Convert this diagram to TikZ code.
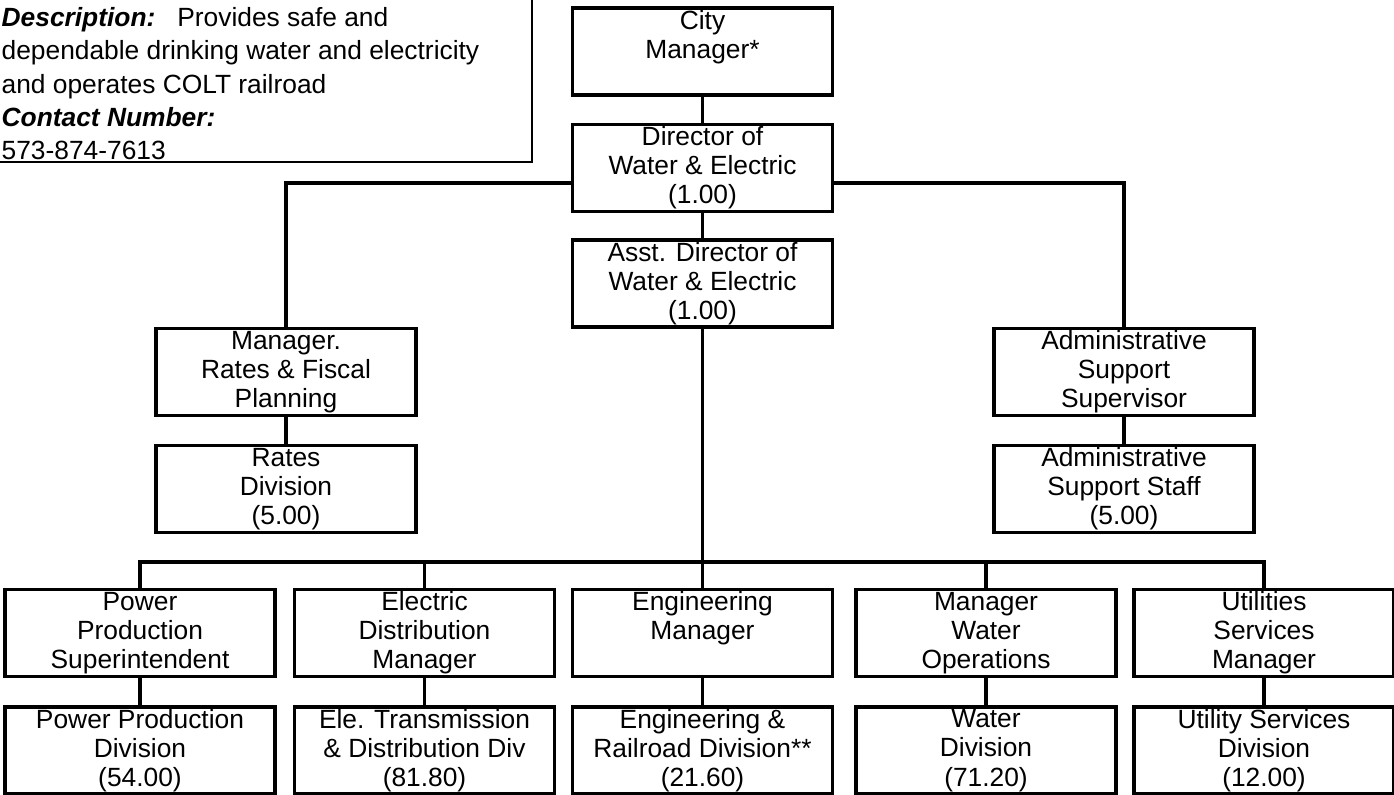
\documentclass[tikz,border=0pt]{standalone}
\usepackage{fontspec}
\setmainfont{Liberation Sans}
\usetikzlibrary{positioning}

\begin{document}
\begin{tikzpicture}[x=0.02cm, y=-0.02cm, line width=1.9pt,
  unit/.style={draw, rectangle, minimum width=5.2cm, minimum height=1.74cm,
    inner sep=0pt, align=center, font=\fontsize{15pt}{16.6pt}\selectfont},
  link/.style={line width=1.9pt}]

\useasboundingbox (0,0) rectangle (1394,795);

% Description box
\draw[line width=1.2pt] (-20,-20) rectangle (532,162);
\node[anchor=north west, inner sep=0pt, align=left,
      font=\fontsize{15pt}{19pt}\selectfont] (desc) at (0,5.5)
  {\textbf{\textit{Description:}}\ \ \ Provides safe and\\
   dependable drinking water and electricity\\
   and operates COLT railroad\\
   \textbf{\textit{Contact Number:}}\\
   573-874-7613};

% Top of chain
\node[unit] (city) at (702.5,51.5) {City\\Manager*\\\phantom{(0)}};
\node[unit] (dir) at (702.5,168) {Director of\\Water \& Electric\\(1.00)};
\node[unit] (asst) at (702.5,283.5) {Asst. Director of\\Water \& Electric\\(1.00)};

% Side branches
\node[unit] (rfp) at (286,372) {Manager.\\Rates \& Fiscal\\Planning};
\node[unit] (rates) at (286,489) {Rates\\Division\\(5.00)};
\node[unit] (adsup) at (1124,372) {Administrative\\Support\\Supervisor};
\node[unit] (adstaff) at (1124,489) {Administrative\\Support Staff\\(5.00)};

% Managers row
\node[unit, minimum width=5.4cm] (power) at (140,633) {Power\\Production\\Superintendent};
\node[unit] (elec) at (424.5,633) {Electric\\Distribution\\Manager};
\node[unit] (eng) at (702.5,633) {Engineering\\Manager\\\phantom{(0)}};
\node[unit] (water) at (986,633) {Manager\\Water\\Operations};
\node[unit] (util) at (1264,633) {Utilities\\Services\\Manager};

% Divisions row
\node[unit, minimum width=5.4cm] (powdiv) at (140,750.5) {Power Production\\Division\\(54.00)};
\node[unit] (elediv) at (424.5,750.5) {Ele. Transmission\\\& Distribution Div\\(81.80)};
\node[unit] (engdiv) at (702.5,750.5) {Engineering \&\\Railroad Division**\\(21.60)};
\node[unit] (watdiv) at (986,750.5) {Water\\Division\\(71.20)};
\node[unit] (utldiv) at (1264,750.5) {Utility Services\\Division\\(12.00)};

% Connectors
\coordinate (bus) at (702.5,562);
\draw[link] (city) -- (dir);
\draw[link] (dir) -- (asst);
\draw[link] ([yshift=-0.3cm]dir.west) -| (rfp.north);
\draw[link] ([yshift=-0.3cm]dir.east) -| (adsup.north);
\draw[link] (rfp) -- (rates);
\draw[link] (adsup) -- (adstaff);
\draw[link] (asst) -- (eng);
\draw[link] (power.north) |- (bus) -| (util.north);
\draw[link] (elec.north) -- (elec.north |- bus);
\draw[link] (water.north) -- (water.north |- bus);
\draw[link] (power) -- (powdiv);
\draw[link] (elec) -- (elediv);
\draw[link] (eng) -- (engdiv);
\draw[link] (water) -- (watdiv);
\draw[link] (util) -- (utldiv);

\end{tikzpicture}
\end{document}
